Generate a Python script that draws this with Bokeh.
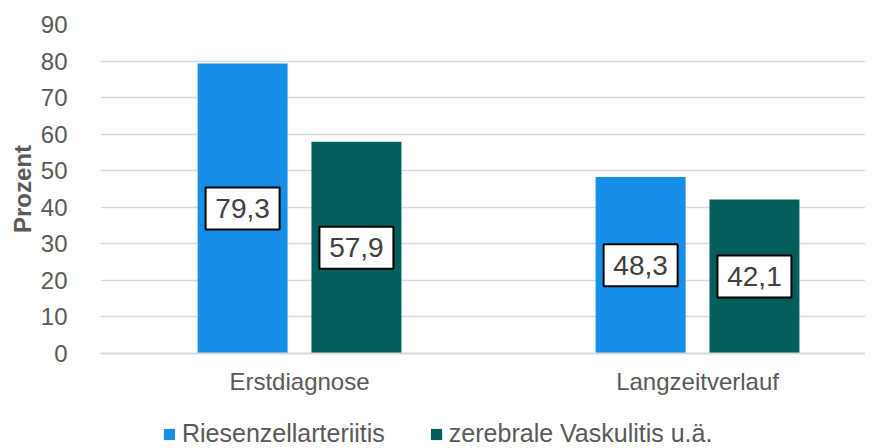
from bokeh.plotting import figure
from bokeh.layouts import column
from bokeh.models import (ColumnDataSource, Range1d, FixedTicker, Legend, LegendItem)
from bokeh.embed import file_html
from bokeh.resources import INLINE

categories = ["Erstdiagnose", "Langzeitverlauf"]
series_names = ["Riesenzellarteriitis", "zerebrale Vaskulitis u.ä."]
riesenzell = [79.3, 48.3]
zerebral = [57.9, 42.1]
y_ticks = [0, 10, 20, 30, 40, 50, 60, 70, 80, 90]

colors = ["#1590e6", "#025f5b"]
FONT = "Liberation Sans"

xc = [i + 0.5 for i in range(len(categories))]
offset = 0.143
bw = 0.226

p = figure(width=865, height=397, output_backend="svg", toolbar_location=None,
           x_range=Range1d(0, 1.922), y_range=Range1d(0, 90),
           min_border_left=100, min_border_right=0, min_border_top=24, min_border_bottom=40)
p.outline_line_color = None
p.background_fill_color = "white"
p.border_fill_color = "white"

for vals, off, col in [(riesenzell, -offset, colors[0]), (zerebral, offset, colors[1])]:
    src = ColumnDataSource(dict(x=[c + off for c in xc], top=vals,
                                mid=[v / 2 for v in vals],
                                lbl=[f"{v:.1f}".replace(".", ",") for v in vals]))
    p.vbar(x="x", top="top", width=bw, bottom=0, source=src, fill_color=col, line_color=None)
    p.rect(x="x", y="mid", width=74, height=42, width_units="screen", height_units="screen",
           source=src, fill_color="white", line_color="black", line_width=2)
    p.text(x="x", y="mid", text="lbl", source=src, text_align="center", text_baseline="middle",
           text_font_size="28px", text_color="#404040", text_font={"value": FONT})

# axes
p.yaxis.ticker = FixedTicker(ticks=y_ticks)
p.yaxis.axis_line_color = None
p.yaxis.major_tick_line_color = None
p.yaxis.minor_tick_line_color = None
p.yaxis.major_label_standoff = 27
p.yaxis.major_label_text_font = FONT
p.yaxis.major_label_text_font_size = "24px"
p.yaxis.major_label_text_color = "#595959"
p.yaxis.axis_label = "Prozent"
p.yaxis.axis_label_text_font = FONT
p.yaxis.axis_label_text_font_size = "24px"
p.yaxis.axis_label_text_font_style = "bold"
p.yaxis.axis_label_text_color = "#595959"
p.yaxis.axis_label_standoff = 2

p.xaxis.ticker = FixedTicker(ticks=xc)
p.xaxis.major_label_overrides = {x: c for x, c in zip(xc, categories)}
p.xaxis.axis_line_color = "#d9d9d9"
p.xaxis.axis_line_width = 2
p.xaxis.major_tick_line_color = None
p.xaxis.minor_tick_line_color = None
p.xaxis.major_label_standoff = 8
p.xaxis.major_label_text_font = FONT
p.xaxis.major_label_text_font_size = "24px"
p.xaxis.major_label_text_color = "#595959"

p.xgrid.grid_line_color = None
p.ygrid.grid_line_color = "#d9d9d9"
p.ygrid.grid_line_width = 1.5

# legend strip
lf = figure(width=865, height=51, output_backend="svg", toolbar_location=None,
            x_range=Range1d(0, 1), y_range=Range1d(0, 1),
            x_axis_location=None, y_axis_location=None,
            min_border_left=0, min_border_right=0, min_border_top=0, min_border_bottom=0)
lf.grid.visible = False
lf.outline_line_color = None
leg_renderers = [lf.vbar(x=[5], top=[0], width=0.1, fill_color=c, line_color=None) for c in colors]
legend = Legend(items=[LegendItem(label=n, renderers=[r]) for n, r in zip(series_names, leg_renderers)],
                orientation="horizontal", location=(62, 0),
                label_text_font=FONT, label_text_font_size="25px", label_text_color="#595959",
                glyph_width=14, glyph_height=14, label_standoff=6, spacing=44,
                border_line_color=None, background_fill_alpha=0, padding=0, margin=0)
lf.add_layout(legend)

open("out.html", "w").write(file_html(column(p, lf, spacing=0), INLINE))
